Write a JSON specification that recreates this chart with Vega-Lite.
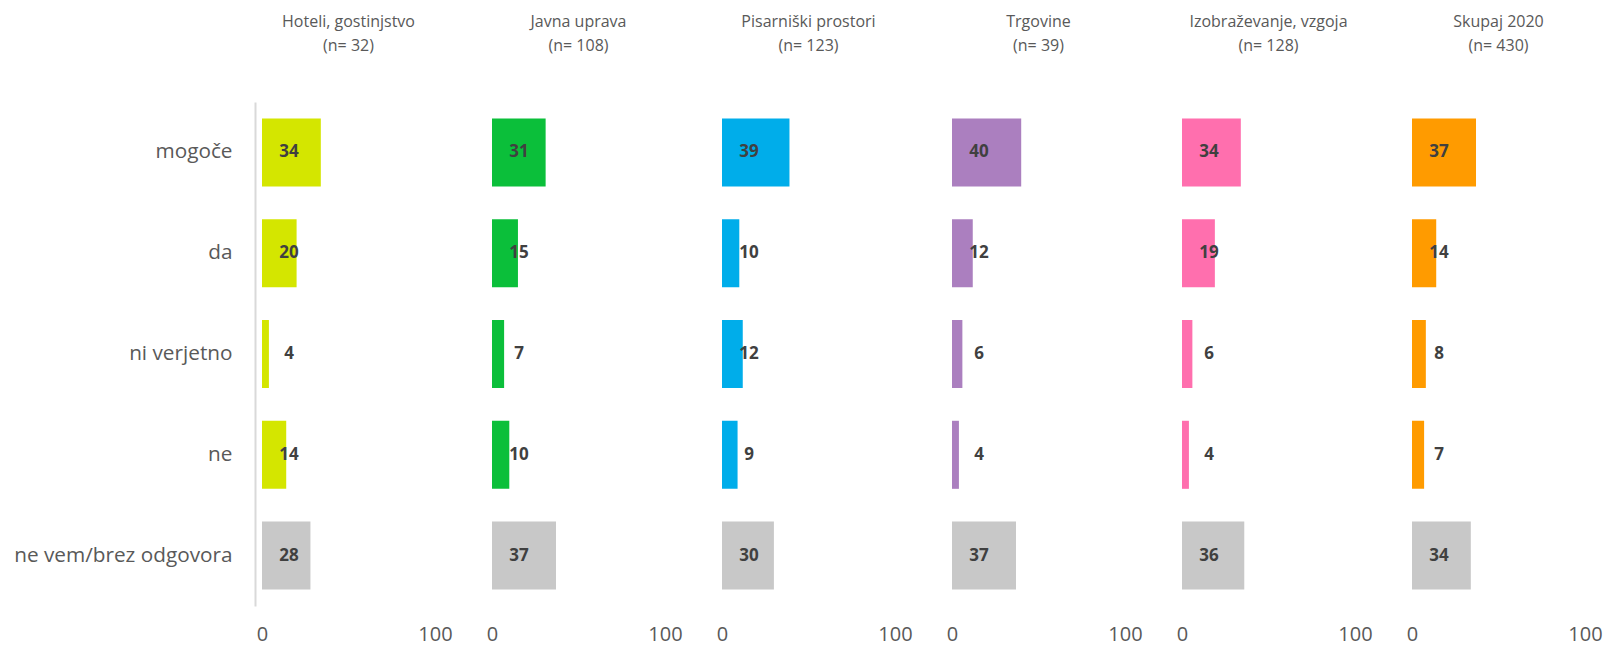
{
  "$schema": "https://vega.github.io/schema/vega-lite/v6.json",
  "padding": {"left": 13, "top": 14, "right": 0, "bottom": 0},
  "background": "white",
  "data": {"values": [
    {"sektor": "Hoteli, gostinjstvo|(n= 32)", "odgovor": "mogoče", "vrednost": 34},
    {"sektor": "Hoteli, gostinjstvo|(n= 32)", "odgovor": "da", "vrednost": 20},
    {"sektor": "Hoteli, gostinjstvo|(n= 32)", "odgovor": "ni verjetno", "vrednost": 4},
    {"sektor": "Hoteli, gostinjstvo|(n= 32)", "odgovor": "ne", "vrednost": 14},
    {"sektor": "Hoteli, gostinjstvo|(n= 32)", "odgovor": "ne vem/brez odgovora", "vrednost": 28},
    {"sektor": "Javna uprava|(n= 108)", "odgovor": "mogoče", "vrednost": 31},
    {"sektor": "Javna uprava|(n= 108)", "odgovor": "da", "vrednost": 15},
    {"sektor": "Javna uprava|(n= 108)", "odgovor": "ni verjetno", "vrednost": 7},
    {"sektor": "Javna uprava|(n= 108)", "odgovor": "ne", "vrednost": 10},
    {"sektor": "Javna uprava|(n= 108)", "odgovor": "ne vem/brez odgovora", "vrednost": 37},
    {"sektor": "Pisarniški prostori|(n= 123)", "odgovor": "mogoče", "vrednost": 39},
    {"sektor": "Pisarniški prostori|(n= 123)", "odgovor": "da", "vrednost": 10},
    {"sektor": "Pisarniški prostori|(n= 123)", "odgovor": "ni verjetno", "vrednost": 12},
    {"sektor": "Pisarniški prostori|(n= 123)", "odgovor": "ne", "vrednost": 9},
    {"sektor": "Pisarniški prostori|(n= 123)", "odgovor": "ne vem/brez odgovora", "vrednost": 30},
    {"sektor": "Trgovine|(n= 39)", "odgovor": "mogoče", "vrednost": 40},
    {"sektor": "Trgovine|(n= 39)", "odgovor": "da", "vrednost": 12},
    {"sektor": "Trgovine|(n= 39)", "odgovor": "ni verjetno", "vrednost": 6},
    {"sektor": "Trgovine|(n= 39)", "odgovor": "ne", "vrednost": 4},
    {"sektor": "Trgovine|(n= 39)", "odgovor": "ne vem/brez odgovora", "vrednost": 37},
    {"sektor": "Izobraževanje, vzgoja|(n= 128)", "odgovor": "mogoče", "vrednost": 34},
    {"sektor": "Izobraževanje, vzgoja|(n= 128)", "odgovor": "da", "vrednost": 19},
    {"sektor": "Izobraževanje, vzgoja|(n= 128)", "odgovor": "ni verjetno", "vrednost": 6},
    {"sektor": "Izobraževanje, vzgoja|(n= 128)", "odgovor": "ne", "vrednost": 4},
    {"sektor": "Izobraževanje, vzgoja|(n= 128)", "odgovor": "ne vem/brez odgovora", "vrednost": 36},
    {"sektor": "Skupaj 2020|(n= 430)", "odgovor": "mogoče", "vrednost": 37},
    {"sektor": "Skupaj 2020|(n= 430)", "odgovor": "da", "vrednost": 14},
    {"sektor": "Skupaj 2020|(n= 430)", "odgovor": "ni verjetno", "vrednost": 8},
    {"sektor": "Skupaj 2020|(n= 430)", "odgovor": "ne", "vrednost": 7},
    {"sektor": "Skupaj 2020|(n= 430)", "odgovor": "ne vem/brez odgovora", "vrednost": 34}
  ]},
  "facet": {
    "column": {
      "field": "sektor",
      "type": "nominal",
      "sort": ["Hoteli, gostinjstvo|(n= 32)", "Javna uprava|(n= 108)", "Pisarniški prostori|(n= 123)", "Trgovine|(n= 39)", "Izobraževanje, vzgoja|(n= 128)", "Skupaj 2020|(n= 430)"],
      "header": {
        "title": null,
        "labelExpr": "split(datum.value, '|')",
        "labelFontSize": 16,
        "labelFont": "Open Sans",
        "labelColor": "#595959",
        "labelLineHeight": 24,
        "labelPadding": 48
      }
    }
  },
  "spacing": {"column": 57},
  "spec": {
    "width": 173,
    "height": 504,
    "encoding": {
      "y": {
        "field": "odgovor",
        "type": "nominal",
        "sort": ["mogoče", "da", "ni verjetno", "ne", "ne vem/brez odgovora"],
        "scale": {"paddingInner": 0.325, "paddingOuter": 0.1625},
        "axis": {
          "title": null,
          "domain": true,
          "domainColor": "#d9d9d9",
          "domainWidth": 2,
          "ticks": false,
          "labelFontSize": 20.75,
          "labelFont": "Open Sans",
          "labelColor": "#595959",
          "labelPadding": 23,
          "labelLimit": 400,
          "offset": 7
        }
      }
    },
    "layer": [
      {
        "mark": {"type": "bar"},
        "encoding": {
          "x": {
            "field": "vrednost",
            "type": "quantitative",
            "scale": {"domain": [0, 100]},
            "axis": {
              "values": [0, 100],
              "title": null,
              "domain": false,
              "ticks": false,
              "grid": false,
              "labelFontSize": 20,
              "labelFont": "Open Sans",
              "labelColor": "#595959",
              "labelPadding": 18,
              "labelFlush": false
            }
          },
          "color": {
            "field": "sektor",
            "type": "nominal",
            "legend": null,
            "scale": {
              "domain": ["Hoteli, gostinjstvo|(n= 32)", "Javna uprava|(n= 108)", "Pisarniški prostori|(n= 123)", "Trgovine|(n= 39)", "Izobraževanje, vzgoja|(n= 128)", "Skupaj 2020|(n= 430)"],
              "range": ["#d4e600", "#0bbf3a", "#00adea", "#ab7fbf", "#ff6fae", "#ff9b00"]
            },
            "condition": {"test": "datum.odgovor === 'ne vem/brez odgovora'", "value": "#c8c8c8"}
          }
        }
      },
      {
        "mark": {"type": "text", "align": "center", "baseline": "middle", "dx": 27, "fontWeight": "bold", "fontSize": 17, "font": "Open Sans", "color": "#404040"},
        "encoding": {
          "x": {"datum": 0, "type": "quantitative"},
          "text": {"field": "vrednost", "type": "quantitative"}
        }
      }
    ]
  },
  "config": {"view": {"stroke": null}, "font": "Open Sans"}
}
